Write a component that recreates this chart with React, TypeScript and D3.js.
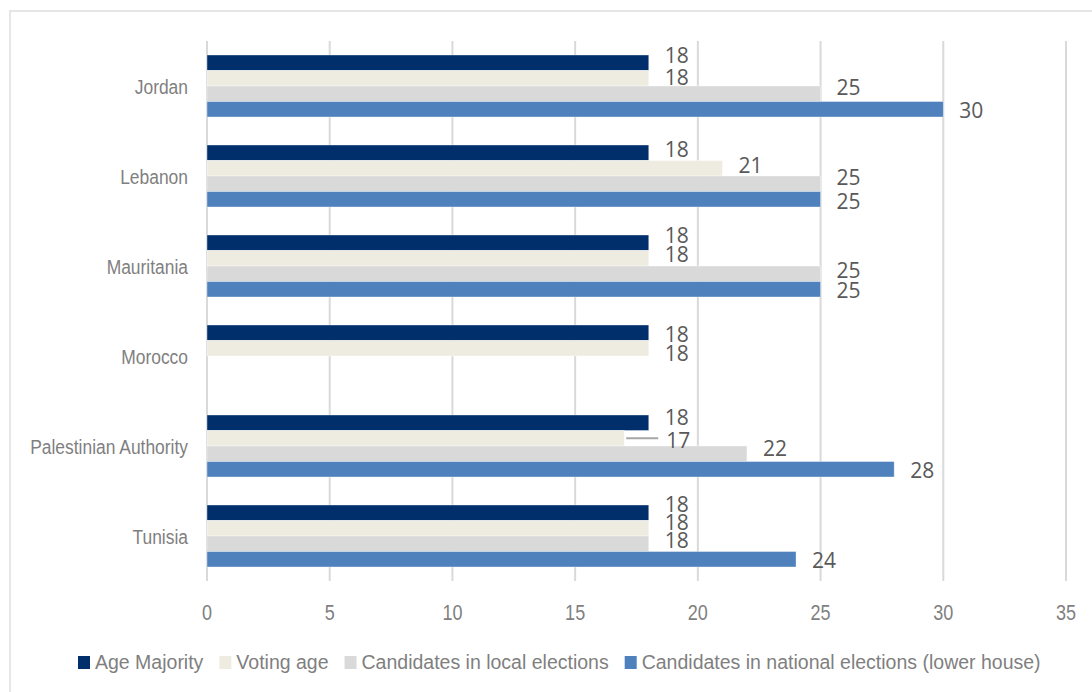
import React from "react";
import * as d3 from "d3";

const categories = ["Jordan", "Lebanon", "Mauritania", "Morocco", "Palestinian Authority", "Tunisia"];
const seriesNames = [
  "Age Majority",
  "Voting age",
  "Candidates in local elections",
  "Candidates in national elections (lower house)",
];
const ageMajority = [18, 18, 18, 18, 18, 18];
const votingAge = [18, 21, 18, 18, 17, 18];
const localCandidates: (number | null)[] = [25, 25, 25, null, 22, 18];
const nationalCandidates: (number | null)[] = [30, 25, 25, null, 28, 24];
const xTicks = [0, 5, 10, 15, 20, 25, 30, 35];

const seriesValues = [ageMajority, votingAge, localCandidates, nationalCandidates];
const colors = ["#002F6C", "#EEECE1", "#D9D9D9", "#4F81BD"];

// label placement nudges (Excel collision resolution), layout only
const labelDy = [
  [-7.5, -1, -6.5, 1],
  [-3.5, -3, -6, 2],
  [-7.5, -4, -3.5, 1],
  [1.5, 5.5, 0, 0],
  [-5.5, 2, -5.5, 1],
  [-8.5, -6, -3.5, 1],
];
// displaced label with leader line: [categoryIndex, seriesIndex, extra dx]
const leaderLabels: [number, number, number][] = [[4, 1, 26]];

const W = 1092;
const H = 692;

function measure(text: string, font: string): number {
  const c = document.createElement("canvas");
  const ctx = c.getContext("2d")!;
  ctx.font = font;
  return ctx.measureText(text).width;
}

export default function App() {
  const x = d3.scaleLinear().domain([0, 35]).range([207, 1066]);
  const y = d3
    .scaleBand<string>()
    .domain(categories)
    .range([41, 581])
    .paddingInner(0.311)
    .paddingOuter(0.1555);
  const ySub = d3
    .scaleBand<number>()
    .domain(d3.range(seriesNames.length))
    .range([0, y.bandwidth()]);

  const axisFont = "'Liberation Sans', Arial, sans-serif";
  const legendFontSize = 19.5;
  const legendFont = `${legendFontSize}px 'Liberation Sans'`;

  // legend layout
  const sw = 12;
  let lx = 78;
  const legendItems = seriesNames.map((name, i) => {
    const item = { name, i, x: lx };
    lx += 17 + measure(name, legendFont) + 16;
    return item;
  });

  return (
    <svg
      width={W}
      height={H}
      style={{ position: "absolute", left: 0, top: 0, background: "#fff" }}
    >
      <rect x={0} y={0} width={W} height={H} fill="#fff" />
      <rect
        x={10}
        y={11}
        width={W + 20}
        height={H + 20}
        fill="none"
        stroke="#E6E6E6"
        strokeWidth={2}
      />
      {/* gridlines */}
      {xTicks.map((t) => (
        <line
          key={"g" + t}
          x1={x(t)}
          x2={x(t)}
          y1={41}
          y2={581}
          stroke="#D9D9D9"
          strokeWidth={2}
        />
      ))}
      {/* x tick labels */}
      {xTicks.map((t) => (
        <text
          key={"t" + t}
          transform={`translate(${x(t)},620) scale(0.82,1)`}
          textAnchor="middle"
          fontFamily={axisFont}
          fontSize={22}
          fill="#7F7F7F"
        >
          {t}
        </text>
      ))}
      {/* category labels */}
      {categories.map((c) => (
        <text
          key={"c" + c}
          transform={`translate(188,${(y(c) as number) + y.bandwidth() / 2 + 7.5}) scale(0.83,1)`}
          textAnchor="end"
          fontFamily={axisFont}
          fontSize={21}
          fill="#7F7F7F"
        >
          {c}
        </text>
      ))}
      {/* bars */}
      {categories.map((c, ci) =>
        seriesValues.map((vals, si) => {
          const v = vals[ci];
          if (v == null) return null;
          const by = (y(c) as number) + (ySub(si) as number);
          return (
            <rect
              key={`b${ci}-${si}`}
              x={x(0)}
              y={by}
              width={x(v) - x(0)}
              height={ySub.bandwidth()}
              fill={colors[si]}
              stroke="#ffffff"
              strokeOpacity={0.5}
              strokeWidth={0.75}
            />
          );
        })
      )}
      {/* data labels */}
      {categories.map((c, ci) =>
        seriesValues.map((vals, si) => {
          const v = vals[ci];
          if (v == null) return null;
          const cy = (y(c) as number) + (ySub(si) as number) + ySub.bandwidth() / 2;
          const leader = leaderLabels.find((l) => l[0] === ci && l[1] === si);
          const extra = leader ? leader[2] : 0;
          const lx0 = x(v) + 16 + extra;
          const ly = cy + labelDy[ci][si];
          return (
            <g key={`l${ci}-${si}`}>
              {leader && (
                <line
                  x1={x(v) + 2}
                  x2={lx0 - 8}
                  y1={cy}
                  y2={cy}
                  stroke="#A6A6A6"
                  strokeWidth={2}
                />
              )}
              <text
                x={lx0}
                y={ly + 7.5}
                fontFamily="'Open Sans', sans-serif"
                fontSize={21}
                fill="#595959"
              >
                {v}
              </text>
            </g>
          );
        })
      )}
      {/* legend */}
      {legendItems.map((it) => (
        <g key={"lg" + it.i}>
          <rect x={it.x} y={656} width={sw} height={13} fill={colors[it.i]} />
          <text
            x={it.x + 17}
            y={669}
            fontFamily="'Liberation Sans', Arial, sans-serif"
            fontSize={legendFontSize}
            fill="#7F7F7F"
          >
            {it.name}
          </text>
        </g>
      ))}
    </svg>
  );
}
